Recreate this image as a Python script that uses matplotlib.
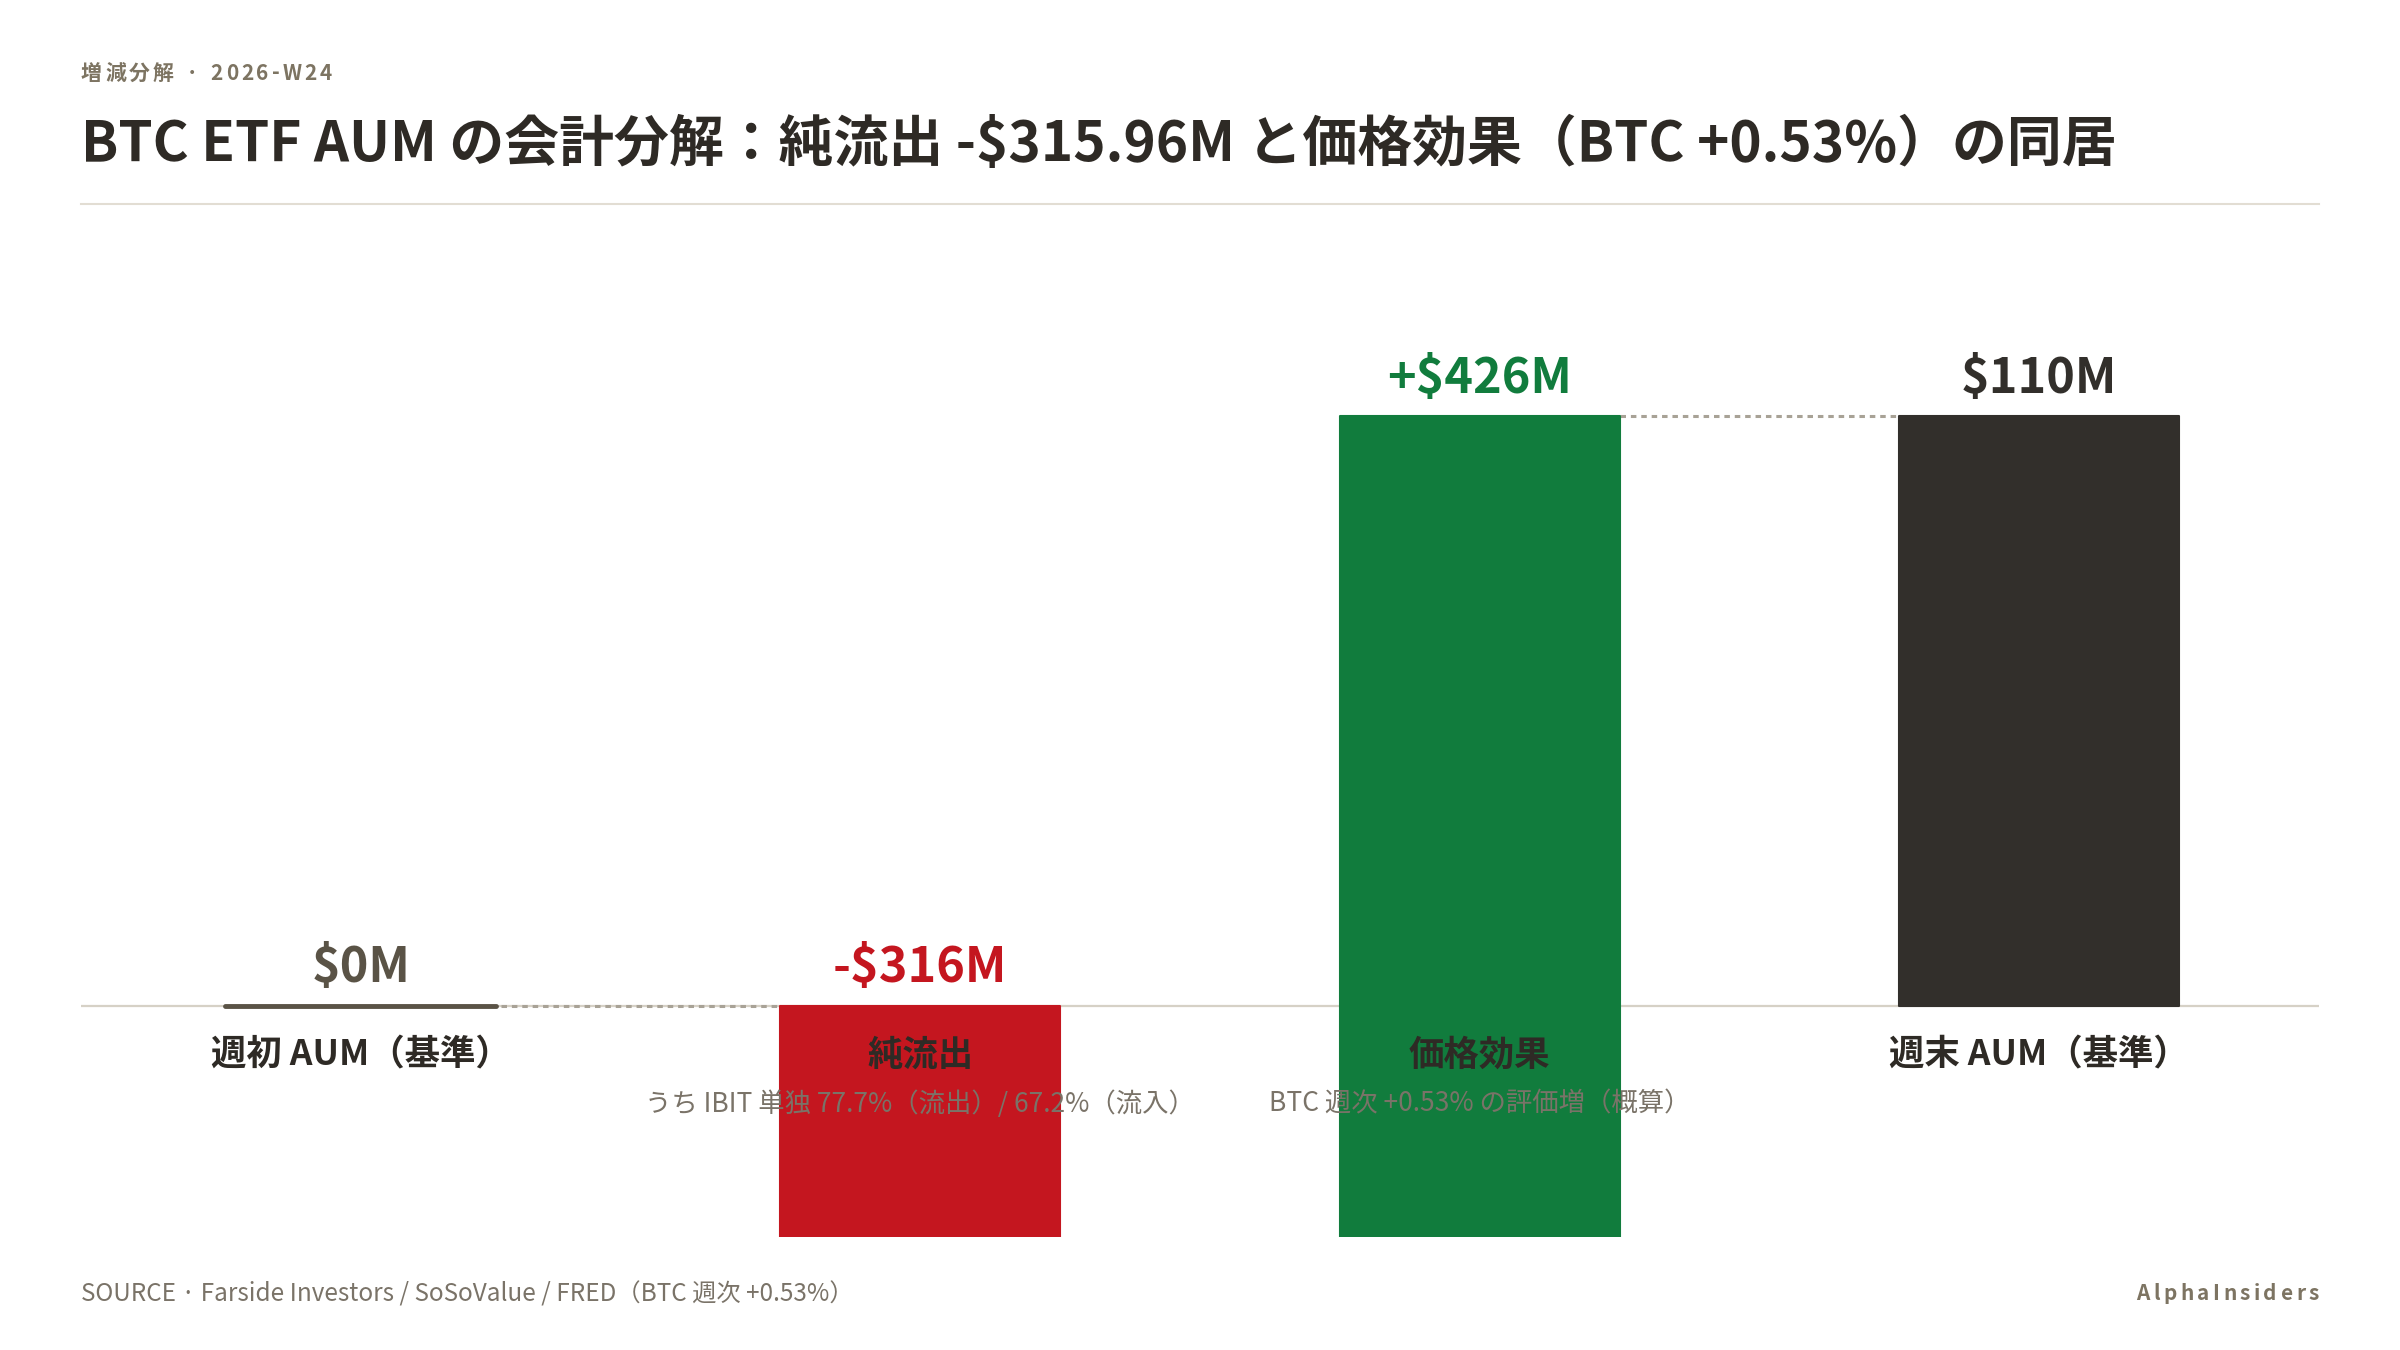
import matplotlib
matplotlib.use('Agg')
import matplotlib.pyplot as plt
from matplotlib.lines import Line2D

plt.rcParams['font.family'] = ['Noto Sans CJK JP', 'DejaVu Sans']

# データ
categories = ['週初 AUM（基準）', '純流出', '価格効果', '週末 AUM（基準）']
sublabels = ['', 'うち IBIT 単独 77.7%（流出）/ 67.2%（流入）', 'BTC 週次 +0.53% の評価増（概算）', '']
start_aum = 0.0
net_flow = -315.96
price_effect = 425.96
end_aum = start_aum + net_flow + price_effect

INK = '#2e2a25'
MUTED = '#7a7368'
RED = '#c4161f'
GREEN = '#117c3d'
DARK = '#322f2b'
BASE = '#5a5346'
W, H = 2400, 1350


def fx(px):
    return px / W


def fy(py):
    return 1 - py / H


def tracked_text(fig, x, y, s, track, ha='left', **kw):
    # 字間をあけて1文字ずつ配置 (x, y はピクセル)
    r = fig.canvas.get_renderer()
    widths = []
    for ch in s:
        t = fig.text(0, 0, ch if ch != ' ' else 'i', **kw)
        widths.append(t.get_window_extent(r).width)
        t.remove()
    total = sum(widths) + track * (len(s) - 1)
    cx = x - total if ha == 'right' else x
    for ch, w in zip(s, widths):
        fig.text(fx(cx), fy(y), ch, va='center', ha='left', **kw)
        cx += w + track


fig = plt.figure(figsize=(24, 13.5), dpi=100)
fig.patch.set_facecolor('white')

ax = fig.add_axes([fx(81), fy(1237), fx(2319) - fx(81), fy(245) - fy(1237)])
ax.set_xlim(-0.5, 3.5)
ax.set_ylim(-43.1, 142)
ax.axis('off')

ax.axhline(0, color='#d6d1c6', lw=1.6, zorder=1)

bw = 0.5
bottoms = [start_aum, start_aum, start_aum + net_flow, 0]
tops = [start_aum, start_aum + net_flow, end_aum, end_aum]
colors = [BASE, RED, GREEN, DARK]
labels = [f'${start_aum:.0f}M', f'-${abs(net_flow):.0f}M', f'+${price_effect:.0f}M', f'${end_aum:.0f}M']

for i in range(4):
    h = tops[i] - bottoms[i]
    if h == 0:
        ax.plot([i - bw / 2 + 0.008, i + bw / 2 - 0.008], [bottoms[i], bottoms[i]],
                color=colors[i], lw=3.5, solid_capstyle='round', zorder=3)
    else:
        ax.bar(i, h, bottom=bottoms[i], width=bw, color=colors[i],
               edgecolor=colors[i], lw=1.5, joinstyle='round', zorder=2)
    lab_color = BASE if i == 0 else colors[i]
    ax.annotate(labels[i], (i, max(bottoms[i], tops[i])), xytext=(0, 17),
                textcoords='offset points', ha='center', va='baseline',
                fontsize=35, fontweight='bold', color=lab_color, zorder=5)

# コネクタ
for i in range(3):
    lvl = tops[i]
    ax.plot([i + bw / 2, i + 1 - bw / 2], [lvl, lvl], color='#a8a296', lw=2.2,
            dashes=(1.8, 1.6), zorder=1)

for i, (c, s) in enumerate(zip(categories, sublabels)):
    ax.annotate(c, (i, 0), xytext=(0, -35.5), textcoords='offset points',
                ha='center', va='center', fontsize=25.5, fontweight='bold',
                color=INK, zorder=6, annotation_clip=False)
    if s:
        ax.annotate(s, (i, 0), xytext=(0, -70.5), textcoords='offset points',
                    ha='center', va='center', fontsize=19, color=MUTED,
                    zorder=6, annotation_clip=False)

# ヘッダー
tracked_text(fig, 81, 73, '増減分解 · 2026-W24', 3, fontsize=15,
             fontweight='bold', color='#7d7462')
fig.text(fx(81), fy(145), 'BTC ETF AUM の会計分解：純流出 -$315.96M と価格効果（BTC +0.53%）の同居',
         fontsize=39.5, fontweight='bold', color=INK, va='center', ha='left')
fig.add_artist(Line2D([fx(81), fx(2319)], [fy(204), fy(204)],
                      transform=fig.transFigure, color='#e2ddd3', lw=1.5))

# フッター
fig.text(fx(81), fy(1294), 'SOURCE · Farside Investors / SoSoValue / FRED（BTC 週次 +0.53%）',
         fontsize=17.5, color=MUTED, va='center', ha='left')
tracked_text(fig, 2319, 1294, 'AlphaInsiders', 3.5, ha='right', fontsize=15,
             fontweight='bold', color='#7d7462')

fig.savefig('out.png', dpi=100, facecolor='white')
